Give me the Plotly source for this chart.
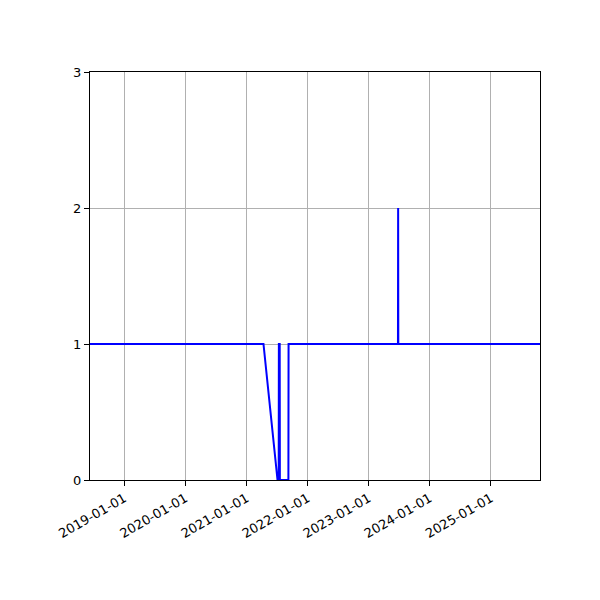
import plotly.graph_objects as go

# daily status series, only the change points are kept
dates = ["2018-06-10", "2021-04-12", "2021-07-05", "2021-07-12", "2021-07-13",
         "2021-07-18", "2021-07-19", "2021-09-08", "2021-09-09",
         "2023-06-25", "2023-06-26", "2023-06-27", "2025-10-21"]
values = [1, 1, 0, 0, 1, 1, 0, 0, 1, 1, 2, 1, 1]

tick_dates = ["2019-01-01", "2020-01-01", "2021-01-01", "2022-01-01",
              "2023-01-01", "2024-01-01", "2025-01-01"]

fig = go.Figure()
fig.add_trace(go.Scatter(x=dates, y=values, mode="lines",
                         line=dict(color="#0000ff", width=2)))

axis_style = dict(showgrid=True, gridcolor="#b0b0b0", gridwidth=1,
                  showline=True, linecolor="black", linewidth=1, mirror=True,
                  ticks="outside", ticklen=5, tickcolor="black", zeroline=False,
                  automargin=False,
                  tickfont=dict(family="DejaVu Sans", size=13, color="black"))

fig.update_xaxes(range=["2018-06-10", "2025-10-21"], tickvals=tick_dates,
                 ticktext=tick_dates, tickangle=-30, **axis_style)
fig.update_yaxes(range=[0, 3], tickvals=[0, 1, 2, 3], **axis_style)

# page body adds 8px, so margins are shifted to compensate
fig.update_layout(width=600, height=600, showlegend=False,
                  plot_bgcolor="white", paper_bgcolor="white",
                  margin=dict(l=82, r=68, t=64, b=128))

fig.write_html("out.html")
